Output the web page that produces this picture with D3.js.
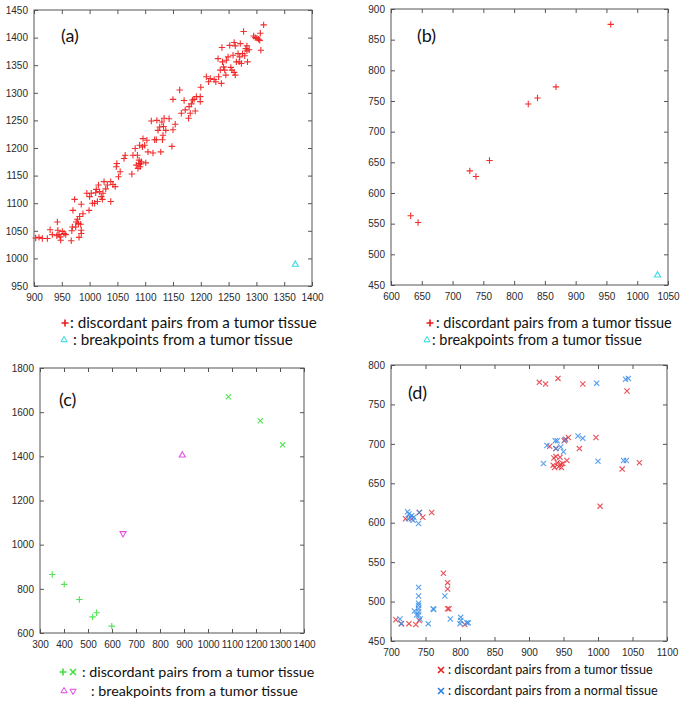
<!DOCTYPE html>
<html><head><meta charset="utf-8">
<script src="https://cdn.jsdelivr.net/npm/d3@7"></script>
<style>
body{margin:0;background:#fff;}
svg{display:block;}
.tick text{font-family:"Liberation Sans",Arial,sans-serif;}
</style></head>
<body><svg id="c" width="685" height="704"></svg>
<script>
// ---------- DATA ----------
// Panel (a)
const aTumorPairs = [
[903,1037],[909,1038],[915,1036],[924,1036],[929,1052],[933,1043],[942,1066],[943,1051],[945,1043],[947,1039],
[948,1033],[951,1049],[954,1045],[957,1043],[941,1041],[967,1032],[968,1050],[969,1057],[970,1087],[973,1107],
[975,1057],[976,1066],[978,1071],[981,1038],[982,1076],[984,1062],[985,1051],[985,1045],[985,1098],[988,1081],
[980,1063],[995,1118],[999,1087],[1000,1112],[1003,1118],[1005,1100],[1009,1100],[1011,1119],[1012,1125],[1014,1103],
[1016,1133],[1018,1121],[1021,1112],[1023,1107],[1024,1118],[1026,1139],[1029,1126],[1032,1133],[1038,1103],[1038,1139],
[1042,1134],[1046,1130],[1048,1166],[1049,1172],[1052,1148],[1055,1157],[1062,1181],[1064,1187],[1076,1153],[1078,1187],
[1082,1199],[1084,1169],[1086,1187],[1087,1163],[1089,1178],[1089,1172],[1090,1205],[1091,1166],[1092,1171],[1093,1175],
[1095,1202],[1096,1217],[1099,1205],[1101,1173],[1103,1214],[1105,1193],[1111,1249],[1114,1191],[1117,1215],[1120,1215],
[1121,1250],[1123,1232],[1126,1238],[1128,1193],[1130,1247],[1131,1215],[1132,1223],[1133,1239],[1134,1254],[1137,1232],
[1143,1253],[1148,1203],[1150,1233],[1150,1288],[1154,1243],[1162,1305],[1165,1263],[1170,1286],[1172,1269],[1178,1254],
[1179,1275],[1181,1263],[1183,1280],[1185,1287],[1188,1288],[1190,1267],[1192,1293],[1199,1284],[1199,1293],[1200,1310],
[1210,1329],[1214,1320],[1217,1326],[1224,1324],[1227,1320],[1231,1362],[1232,1329],[1235,1341],[1237,1317],[1238,1382],
[1239,1356],[1241,1347],[1243,1341],[1245,1332],[1246,1359],[1249,1365],[1252,1386],[1254,1346],[1256,1341],[1258,1368],
[1260,1391],[1260,1337],[1262,1332],[1262,1385],[1264,1356],[1267,1371],[1269,1356],[1270,1365],[1271,1389],[1273,1353],
[1275,1371],[1277,1411],[1279,1367],[1281,1380],[1283,1385],[1283,1376],[1284,1356],[1287,1378],[1295,1403],[1298,1400],
[1301,1399],[1304,1397],[1307,1408],[1308,1377],[1313,1423],[1306,1395]
];
const aTumorBreaks = [[1370,989]];
// Panel (b)
const bTumorPairs = [[632,563],[644,552],[728,636],[738,627],[760,653],[823,745],[838,755],[868,773],[957,875]];
const bTumorBreaks = [[1033,466]];
// Panel (c)
const cPairsPlus = [[351,865],[401,820],[464,752],[519,673],[536,692],[599,631]];
const cPairsX = [[1085,1670],[1218,1561],[1311,1452]];
const cBreaksUp = [[893,1405]];
const cBreaksDown = [[646,1051]];
// Panel (d)
const dTumorPairs = [
[915,778],[924,776],[942,783],[978,776],[1042,767],[930,697],[939,694],[936,682],[935,673],[937,670],
[941,676],[945,683],[946,674],[947,670],[943,671],[949,675],[951,704],[953,706],[957,708],[955,679],
[973,694],[997,708],[1003,621],[1035,668],[1060,676],[939,684],
[721,605],[741,613],[746,607],[759,613],[730,605],
[707,477],[715,472],[726,472],[736,471],[741,476],[776,536],[782,524],[782,516],[782,491],[784,491],[807,471]
];
const dNormalPairs = [
[921,675],[926,698],[938,704],[941,704],[939,694],[946,696],[950,690],[952,705],[971,710],[978,707],
[998,777],[1000,678],[1037,679],[1041,679],[1040,782],[1044,783],
[724,614],[726,611],[728,607],[730,609],[733,607],[732,603],[740,599],[741,613],[725,605],
[713,478],[715,472],[734,488],[740,518],[740,507],[740,498],[740,495],[740,491],[740,487],[740,483],
[737,483],[742,478],[754,472],[761,491],[762,490],[778,507],[786,478],[801,480],[801,476],[800,472],
[810,473],[812,473]
];
// Tick values
const aTicks = d3.range(900,1401,50), aYTicks = d3.range(950,1451,50);
const bTicks = d3.range(600,1051,50), bYTicks = d3.range(450,901,50);
const cTicks = d3.range(300,1401,100), cYTicks = d3.range(600,1801,200);
const dTicks = d3.range(700,1101,50), dYTicks = d3.range(450,801,50);
const legendA = ["discordant pairs from a tumor tissue","breakpoints from a tumor tissue"];
const legendD = ["discordant pairs from a tumor tissue","discordant pairs from a normal tissue"];

// ---------- STYLE ----------
const RED="#f01818", CYAN="#22d8e0", GREEN="#3ee03e", MAGENTA="#e040e0", BLUE="#3a8ee6", DRED="#e8303a";
const svg = d3.select("#c");

const plus = s => `M${-s},0H${s}M0,${-s}V${s}`;
const cross = s => `M${-s},${-s}L${s},${s}M${-s},${s}L${s},${-s}`;
const triUp = d3.symbol().type(d3.symbolTriangle).size(16)();

function panel(cfg){
  const x = d3.scaleLinear().domain(cfg.xd).range([cfg.l,cfg.r]);
  const y = d3.scaleLinear().domain(cfg.yd).range([cfg.b,cfg.t]);
  const g = svg.append("g");
  const tl = 4;
  const mk = (axis,tr)=>{
    const a = g.append("g").attr("transform",tr).call(axis);
    a.select(".domain").remove();
    a.selectAll("line").attr("stroke","#555");
    a.selectAll("text").attr("fill","#2a2a2a").attr("font-size",cfg.fs||10);
    return a;
  };
  mk(d3.axisBottom(x).tickValues(cfg.xt).tickSize(-tl).tickPadding(8).tickFormat(d3.format("d")),`translate(0,${cfg.b})`);
  mk(d3.axisTop(x).tickValues(cfg.xt).tickSize(-tl).tickFormat(""),`translate(0,${cfg.t})`);
  mk(d3.axisLeft(y).tickValues(cfg.yt).tickSize(-tl).tickPadding(cfg.yp||6).tickFormat(d3.format("d")),`translate(${cfg.l},0)`);
  mk(d3.axisRight(y).tickValues(cfg.yt).tickSize(-tl).tickFormat(""),`translate(${cfg.r},0)`);
  g.append("rect").attr("x",cfg.l).attr("y",cfg.t).attr("width",cfg.r-cfg.l).attr("height",cfg.b-cfg.t)
    .attr("fill","none").attr("stroke","#555").attr("stroke-width",1);
  cfg.series.forEach(s=>{
    g.append("g").selectAll("path").data(s.data).join("path")
      .attr("transform",d=>`translate(${x(d[0])},${y(d[1])})${s.rot?" rotate(180)":""}`)
      .attr("d",s.path).attr("fill","none").attr("stroke",s.color).attr("stroke-width",s.sw||1.1)
      .attr("stroke-opacity",s.op||0.9);
  });
  g.append("text").attr("x",cfg.l+cfg.lab[1]).attr("y",cfg.t+cfg.lab[2]).text(cfg.lab[0])
    .attr("font-family","Lato, 'Open Sans', sans-serif").attr("font-size",18).attr("fill","#111");
}

panel({l:34,r:312,t:10,b:286,xd:[900,1400],yd:[950,1450],xt:aTicks,yt:aYTicks,lab:["(a)",27,32],
  series:[{data:aTumorPairs,path:plus(3.2),color:RED},{data:aTumorBreaks,path:triUp,color:CYAN}]});
panel({l:391,r:668,t:9,b:285,xd:[600,1050],yd:[450,900],xt:bTicks,yt:bYTicks,lab:["(b)",26,33],
  series:[{data:bTumorPairs,path:plus(3.2),color:RED},{data:bTumorBreaks,path:triUp,color:CYAN}]});
panel({l:40,r:304,t:368,b:633,xd:[300,1400],yd:[600,1800],xt:cTicks,yt:cYTicks,lab:["(c)",19,38],
  series:[{data:cPairsPlus,path:plus(3.2),color:GREEN},{data:cPairsX,path:cross(2.6),color:GREEN},
          {data:cBreaksUp,path:triUp,color:MAGENTA},{data:cBreaksDown,path:triUp,color:MAGENTA,rot:true}]});
panel({l:391,r:667,t:365,b:641,xd:[700,1100],yd:[450,800],xt:dTicks,yt:dYTicks,lab:["(d)",17,34],
  series:[{data:dTumorPairs,path:cross(2.6),color:DRED,op:0.85},{data:dNormalPairs,path:cross(2.6),color:BLUE,op:0.85}]});

// ---------- LEGENDS ----------
function legendLine(yc,markers,colonX,text,fs){
  const g = svg.append("g");
  markers.forEach(m=>{
    g.append("path").attr("transform",`translate(${m.x},${yc})${m.rot?" rotate(180)":""}`).attr("d",m.path)
      .attr("fill","none").attr("stroke",m.color).attr("stroke-width",m.sw||1.6);
  });
  g.append("text").attr("x",colonX).attr("y",yc).attr("dy","0.35em").text(": "+text)
    .attr("font-family","Lato, 'Open Sans', sans-serif").attr("font-size",fs).attr("fill","#111");
}
legendLine(323,[{x:65,path:plus(3.5),color:RED}],70,legendA[0],15.2);
legendLine(340,[{x:64,path:triUp,color:CYAN,sw:1}],73,legendA[1],15.2);
legendLine(323,[{x:430,path:plus(3.5),color:RED}],436,legendA[0],14.5);
legendLine(340,[{x:427,path:triUp,color:CYAN,sw:1}],432,legendA[1],14.5);
legendLine(672,[{x:63,path:plus(3.5),color:GREEN},{x:73,path:cross(3),color:GREEN}],82,legendA[0],14.3);
legendLine(691,[{x:64,path:triUp,color:MAGENTA,sw:1},{x:73,path:triUp,color:MAGENTA,sw:1,rot:true}],91,legendA[1],14.3);
legendLine(670,[{x:441,path:cross(3),color:"#e82020"}],448,legendD[0],12.6);
legendLine(691,[{x:441,path:cross(3),color:"#2a7fe0"}],448,legendD[1],12.6);
</script></body></html>
